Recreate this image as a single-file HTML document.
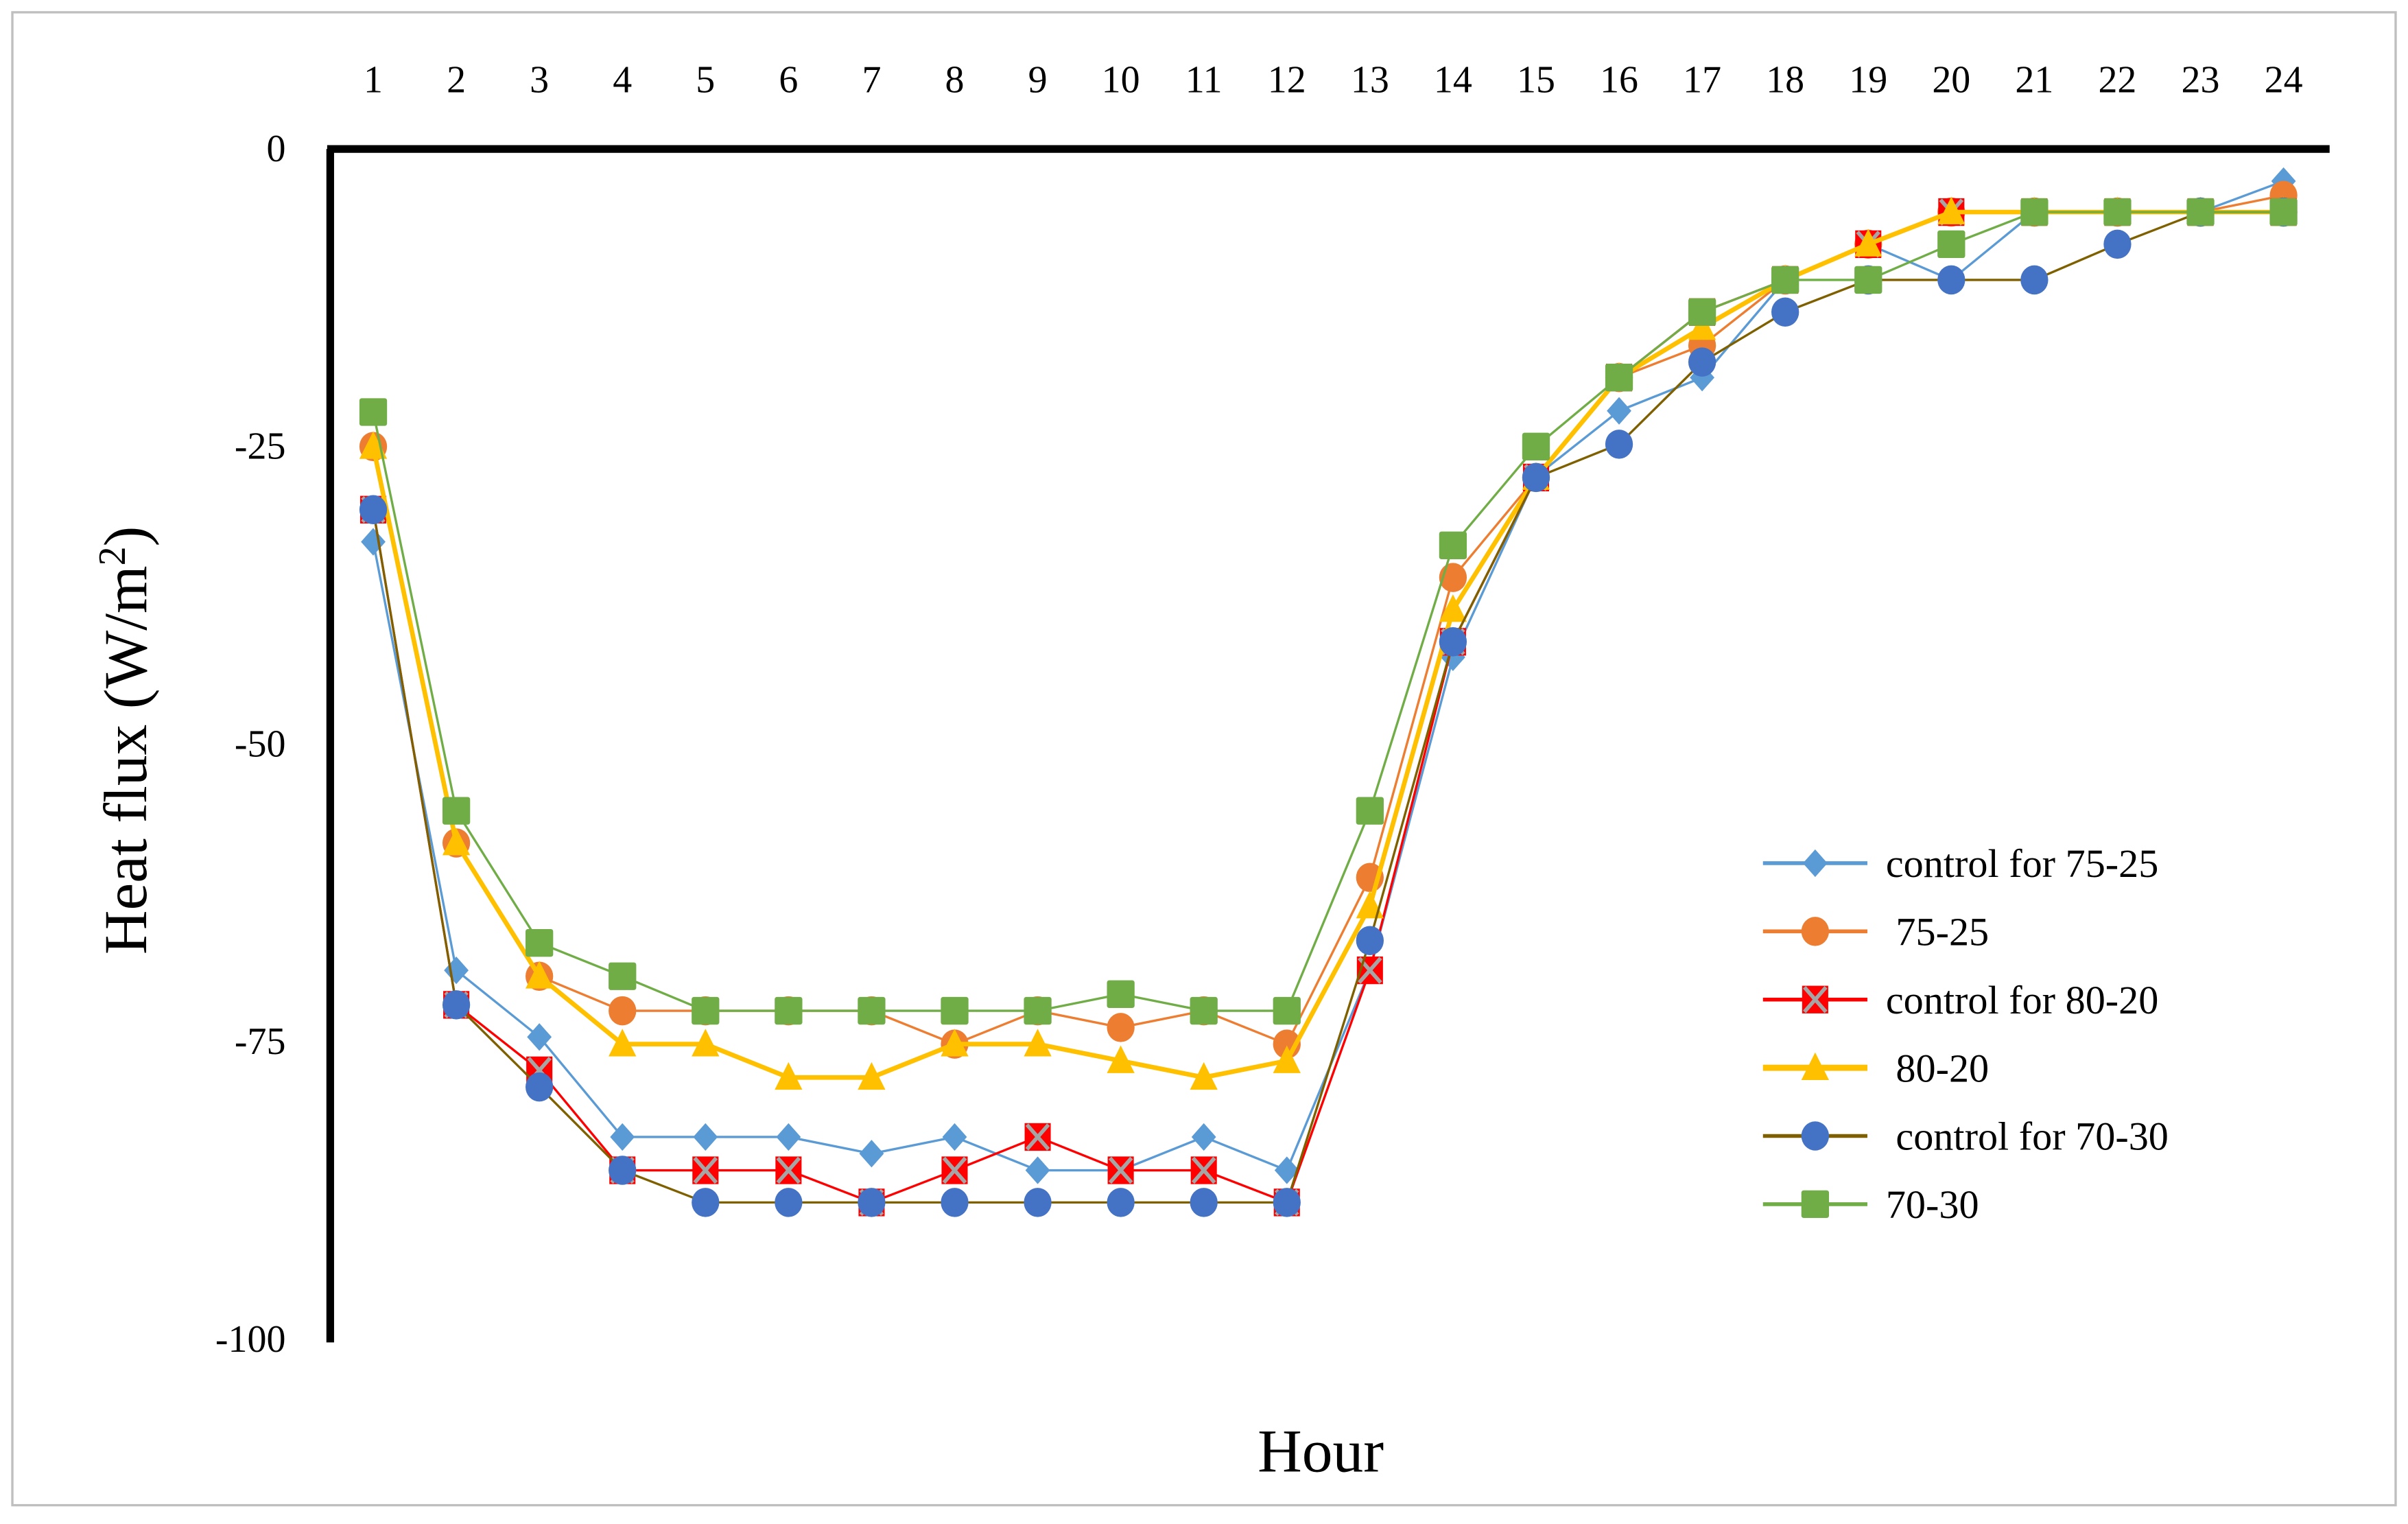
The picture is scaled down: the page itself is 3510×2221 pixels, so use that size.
<!DOCTYPE html>
<html><head><meta charset="utf-8"><style>
html,body{margin:0;padding:0;background:#fff;}
svg, svg text{font-family:"Liberation Serif","Times New Roman",serif;}
</style></head><body>
<svg id="chart" width="3510" height="2216" viewBox="0 0 1568 990" xmlns="http://www.w3.org/2000/svg">
<rect x="8" y="8" width="1552" height="972" fill="#fff" stroke="#bfbfbf" stroke-width="1.5"/>
<g id="series"></g>
<g id="axes"></g>
<text font-family="Liberation Serif, serif" transform="translate(95,482) rotate(-90)" text-anchor="middle" font-size="40">Heat flux (W/m<tspan baseline-shift="super" font-size="25">2</tspan>)</text>
<text font-family="Liberation Serif, serif" x="860" y="958" text-anchor="middle" font-size="40">Hour</text>
<g id="legend"></g>
</svg>
<script>
const hours = [1,2,3,4,5,6,7,8,9,10,11,12,13,14,15,16,17,18,19,20,21,22,23,24];
const yTicks = [0,-25,-50,-75,-100];
const seriesNames = ["control for 75-25"," 75-25","control for 80-20"," 80-20"," control for 70-30","70-30"];
const ctrl7525 = [-33,-69,-74.6,-83,-83,-83,-84.4,-83,-85.8,-85.8,-83,-85.8,-69,-42.7,-27.5,-22,-19.2,-11,-8,-11,-5.3,-5.3,-5.3,-2.7];
const s7525 = [-25,-58.3,-69.5,-72.4,-72.4,-72.4,-72.4,-75.2,-72.4,-73.8,-72.4,-75.2,-61.2,-36,-27.6,-19.2,-16.5,-11,-8,-5.3,-5.3,-5.3,-5.3,-3.9];
const ctrl8020 = [-30.3,-71.9,-77.4,-85.8,-85.8,-85.8,-88.5,-85.8,-83,-85.8,-85.8,-88.5,-69,-41.4,-27.6,-19.2,-13.7,-11,-8,-5.3,-5.3,-5.3,-5.3,-5.3];
const s8020 = [-25,-58.3,-69.5,-75.2,-75.2,-78,-78,-75.2,-75.2,-76.6,-78,-76.6,-63.6,-38.7,-27.6,-19.2,-15,-11,-8,-5.3,-5.3,-5.3,-5.3,-5.3];
const ctrl7030 = [-30.3,-71.9,-78.8,-85.8,-88.5,-88.5,-88.5,-88.5,-88.5,-88.5,-88.5,-88.5,-66.5,-41.4,-27.6,-24.8,-17.9,-13.7,-11,-11,-11,-8,-5.3,-5.3];
const s7030 = [-22.1,-55.6,-66.7,-69.5,-72.4,-72.4,-72.4,-72.4,-72.4,-71,-72.4,-72.4,-55.6,-33.3,-25,-19.2,-13.7,-11,-11,-8,-5.3,-5.3,-5.3,-5.3];

const NS="http://www.w3.org/2000/svg";
const FF="Liberation Serif, serif";
const xS = h => 243 + (h-1)*(1487-243)/23;
const yS = v => 97 + (-v)*(872-97)/100;
function mk(tag, attrs, parent){const e=document.createElementNS(NS,tag);for(const k in attrs)e.setAttribute(k,attrs[k]);parent.appendChild(e);return e;}

const axes=document.getElementById('axes');
let a=mk('line',{x1:215,y1:97,x2:215,y2:874,stroke:'#000','stroke-width':5},axes);


a=mk('line',{x1:213,y1:97,x2:1517,y2:97,stroke:'#000','stroke-width':5},axes);


hours.forEach(h=>{const t=mk('text',{x:xS(h),y:60,'text-anchor':'middle','font-size':25,'font-family':FF},axes);t.textContent=h;

});
yTicks.forEach(v=>{const t=mk('text',{x:186,y:yS(v)+8,'text-anchor':'end','font-size':25,'font-family':FF},axes);t.textContent=v;

});

const styles=[
 {data:ctrl7525,color:'#5b9bd5',w:1.5,m:'diamond'},
 {data:s7525,color:'#ed7d31',w:1.5,m:'circle',mc:'#ed7d31'},
 {data:ctrl8020,color:'#ff0000',w:1.5,m:'xsq'},
 {data:s8020,color:'#ffc000',w:3,m:'tri'},
 {data:ctrl7030,color:'#7f6000',w:1.5,m:'circle',mc:'#4472c4'},
 {data:s7030,color:'#70ad47',w:1.5,m:'square'}
];
function marker(type,x,y,st,g){
 if(type==='diamond') return mk('polygon',{points:`${x},${y-9} ${x+8},${y} ${x},${y+9} ${x-8},${y}`,fill:'#5b9bd5'},g);
 if(type==='circle') return mk('ellipse',{cx:x,cy:y,rx:9,ry:9.5,fill:st.mc},g);
 if(type==='square') return mk('rect',{x:x-9,y:y-9,width:18,height:18,rx:1.5,fill:'#70ad47'},g);
 if(type==='tri') return mk('polygon',{points:`${x},${y-10} ${x+9},${y+8} ${x-9},${y+8}`,fill:'#ffc000'},g);
 if(type==='xsq'){const gg=mk('g',{},g);mk('rect',{x:x-8.5,y:y-9,width:17,height:18,fill:'#ff0000'},gg);
  mk('path',{d:`M${x-7},${y-8}L${x+7},${y+8}M${x+7},${y-8}L${x-7},${y+8}`,stroke:'#a5a5a5','stroke-width':2.5},gg);return gg;}
}
const sg=document.getElementById('series');
styles.forEach((st,i)=>{
 const g=mk('g',{},sg);
 
 
 const pl=mk('polyline',{points:st.data.map((v,j)=>xS(hours[j])+','+yS(v)).join(' '),fill:'none',stroke:st.color,'stroke-width':st.w},g);
 
 
 st.data.forEach((v,j)=>{const m=marker(st.m,xS(hours[j]),yS(v),st,g);
  
  });
 const lg=mk('g',{},document.getElementById('legend'));
 
 
 const ly=562+i*44.4;
 mk('line',{x1:1148,y1:ly,x2:1216,y2:ly,stroke:st.color,'stroke-width':st.w+1},lg);
 marker(st.m,1182,ly,st,lg);
 const t=mk('text',{x:1228,y:ly+9,'font-size':26,'font-family':FF},lg);t.textContent=seriesNames[i];
 t.style.whiteSpace='pre';
});
</script>
</body></html>
